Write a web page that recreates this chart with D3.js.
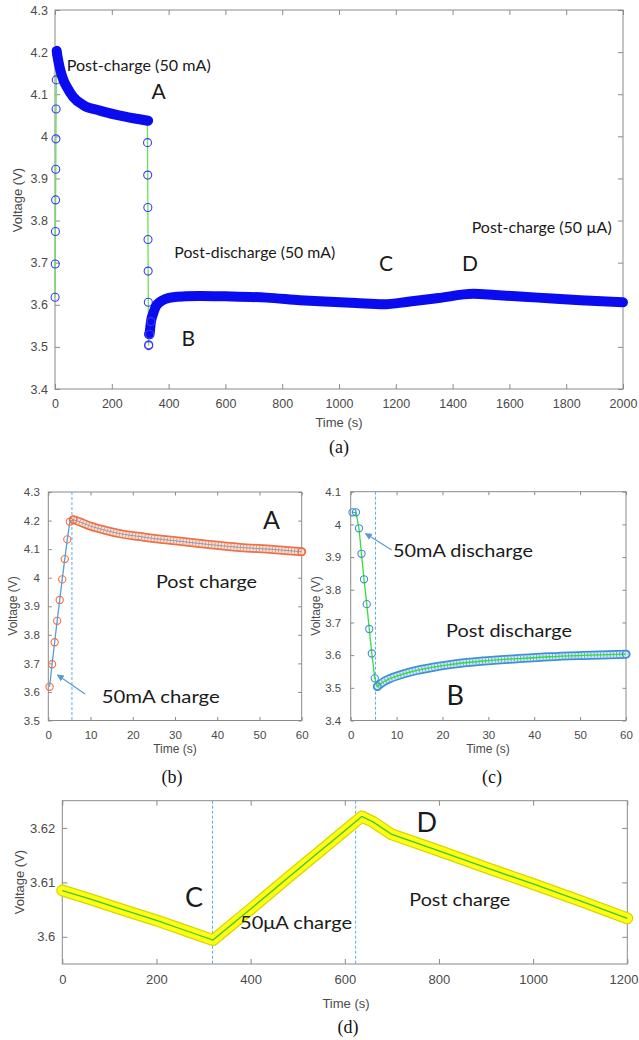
<!DOCTYPE html>
<html><head><meta charset="utf-8">
<script src="https://cdn.jsdelivr.net/npm/d3@7"></script>
<style>body{margin:0;background:#fff}svg{display:block}</style>
</head><body>
<svg id="chart" width="639" height="1040"></svg>
<script>
// ---------------- DATA ----------------
// Panel (a): full record 0-2000 s
const aXTicks = [0,200,400,600,800,1000,1200,1400,1600,1800,2000];
const aYTicks = [3.4,3.5,3.6,3.7,3.8,3.9,4.0,4.1,4.2,4.3];
const aChargeT = [0.3,0.9,1.5,2.1,2.7,3.3,3.9,4.5,5.1];
const aChargeV = [3.618,3.697,3.774,3.849,3.922,3.994,4.065,4.134,4.197];
const aPostChargeT = [5.9,10,17.6,30,41,64.5,100,158,217,276,328];
const aPostChargeV = [4.203,4.185,4.160,4.133,4.118,4.093,4.074,4.061,4.051,4.043,4.037];
const aDischargeT = [324.4,325.2,325.8,326.4,326.9,327.5,328.0,328.6,329.3,329.8];
const aDischargeV = [4.037,4.037,3.985,3.908,3.831,3.755,3.680,3.606,3.530,3.503];
const aPostDisT = [330,333,338,346,356,370,390,416,460,511,600,745,863,968,1060,1156,1250,1350,1473,1550,1700,1850,2000];
const aPostDisV = [3.505,3.530,3.560,3.580,3.597,3.607,3.614,3.618,3.620,3.621,3.620,3.617,3.611,3.607,3.604,3.601,3.608,3.616,3.626,3.623,3.617,3.611,3.606];

// Panel (b): 50 mA charge + post charge (0-60 s)
const bXTicks = [0,10,20,30,40,50,60];
const bYTicks = [3.5,3.6,3.7,3.8,3.9,4.0,4.1,4.2,4.3];
const bChargeT = [0.3,0.9,1.5,2.1,2.7,3.3,3.9,4.5,5.1];
const bChargeV = [3.618,3.697,3.774,3.849,3.922,3.994,4.065,4.134,4.196];
const bPostT = [5.9,7,8,9.9,13.8,17,21.7,25,29.6,37.5,45.4,53.2,60];
const bPostV = [4.203,4.198,4.192,4.181,4.165,4.154,4.144,4.137,4.130,4.117,4.106,4.099,4.091];
const bSwitchT = 5.6;

// Panel (c): 50 mA discharge + post discharge (0-60 s)
const cXTicks = [0,10,20,30,40,50,60];
const cYTicks = [3.4,3.5,3.6,3.7,3.8,3.9,4.0,4.1];
const cDisT = [0.4,1.15,1.8,2.35,2.9,3.5,4.05,4.6,5.25,5.8];
const cDisV = [4.037,4.037,3.988,3.910,3.832,3.756,3.680,3.605,3.529,3.504];
const cPostT = [5.8,6.3,7.1,8.5,10.7,14.4,18,21.6,28.9,36.2,43.4,50.7,60];
const cPostV = [3.504,3.510,3.518,3.528,3.539,3.553,3.563,3.571,3.582,3.589,3.595,3.599,3.603];
const cSwitchT = 5.4;

// Panel (d): 50 uA charge (0-1200 s)
const dXTicks = [0,200,400,600,800,1000,1200];
const dYTicks = [3.6,3.61,3.62];
const dT = [0,60,120,200,260,320,400,480,547,600,636,660,700,800,900,1000,1100,1200];
const dV = [3.6085,3.6069,3.6052,3.6030,3.6012,3.5994,3.6051,3.6109,3.6157,3.6195,3.6221,3.6211,3.6188,3.6158,3.6127,3.6097,3.6066,3.6034];
const dSwitchT = [319,623];

// ---------------- DRAWING ----------------
const svg = d3.select('#chart');
const zip = (t, v) => t.map((d, i) => [d, v[i]]);
const TICKFONT = "'Liberation Sans', Arial, sans-serif";
const ANNFONT = "Lato, 'Open Sans', sans-serif";
const PAGE_W = 639;

svg.append('defs').append('marker')
  .attr('id','arrow').attr('viewBox','0 0 10 10').attr('refX',9).attr('refY',5)
  .attr('markerWidth',7).attr('markerHeight',7).attr('orient','auto-start-reverse')
  .attr('markerUnits','userSpaceOnUse')
  .append('path').attr('d','M0,0 L10,5 L0,10 z').attr('fill','#5b9bd5');

function panel(cfg) {
  const x = d3.scaleLinear().domain(cfg.xDomain).range([cfg.left, cfg.right]);
  const y = d3.scaleLinear().domain(cfg.yDomain).range([cfg.bottom, cfg.top]);
  const g = svg.append('g');
  const fmt = d => String(+d.toFixed(3));
  const style = (sel) => {
    sel.select('.domain').remove();
    sel.selectAll('.tick line').attr('stroke', '#8a8a8a');
    sel.selectAll('.tick text').attr('fill', '#4a4a4a')
      .style('font-family', TICKFONT).style('font-size', cfg.font + 'px');
  };
  const bottomAxis = g.append('g').attr('transform', `translate(0,${cfg.bottom})`)
    .call(d3.axisBottom(x).tickValues(cfg.xTicks).tickSizeInner(-cfg.tick).tickSizeOuter(0).tickPadding(cfg.xPad).tickFormat(fmt))
    .call(style);
  // keep an x label that would run past the page edge inside the page
  bottomAxis.selectAll('.tick').each(function (d) {
    const txt = d3.select(this).select('text');
    const w = txt.node().getComputedTextLength();
    const tx = x(d);
    if (tx + w / 2 > PAGE_W - 1) txt.attr('text-anchor', 'end').attr('x', PAGE_W - 1 - tx);
  });
  g.append('g').attr('transform', `translate(0,${cfg.top})`)
    .call(d3.axisTop(x).tickValues(cfg.xTicks).tickSizeInner(-cfg.tick).tickSizeOuter(0).tickFormat(''))
    .call(style);
  g.append('g').attr('transform', `translate(${cfg.left},0)`)
    .call(d3.axisLeft(y).tickValues(cfg.yTicks).tickSizeInner(-cfg.tick).tickSizeOuter(0).tickPadding(cfg.yPad).tickFormat(fmt))
    .call(style);
  g.append('g').attr('transform', `translate(${cfg.right},0)`)
    .call(d3.axisRight(y).tickValues(cfg.yTicks).tickSizeInner(-cfg.tick).tickSizeOuter(0).tickFormat(''))
    .call(style);
  g.append('rect').attr('x', cfg.left).attr('y', cfg.top)
    .attr('width', cfg.right - cfg.left).attr('height', cfg.bottom - cfg.top)
    .attr('fill', 'none').attr('stroke', '#8a8a8a').attr('stroke-width', 1);
  g.append('text').attr('transform', `translate(${cfg.yl[0]},${cfg.yl[1]}) rotate(-90)`)
    .attr('text-anchor', 'middle').attr('dominant-baseline', 'central')
    .style('font-family', TICKFONT).style('font-size', cfg.lfont + 'px').attr('fill', '#4a4a4a')
    .text('Voltage (V)');
  g.append('text').attr('x', cfg.xl[0]).attr('y', cfg.xl[1])
    .attr('text-anchor', 'middle').attr('dominant-baseline', 'central')
    .style('font-family', TICKFONT).style('font-size', cfg.lfont + 'px').attr('fill', '#4a4a4a')
    .text('Time (s)');
  svg.append('text').attr('x', cfg.cap[0]).attr('y', cfg.cap[1])
    .attr('text-anchor', 'middle').attr('dominant-baseline', 'central')
    .style('font-family', "'Liberation Serif', 'Times New Roman', serif").style('font-size', '18px').attr('fill', '#111')
    .text(cfg.caption);
  return { x, y, g };
}

function ann(txt, x, yb, size, width) {
  const t = svg.append('text').attr('x', x).attr('y', yb)
    .style('font-family', ANNFONT).style('font-size', size + 'px').attr('fill', '#1a1a1a').text(txt);
  if (width) t.attr('textLength', width).attr('lengthAdjust', 'spacingAndGlyphs');
  return t;
}

// ---- Panel (a)
{
  const { x, y, g } = panel({ left: 55, right: 623, top: 10, bottom: 389, xDomain: [0, 2000], yDomain: [3.4, 4.3],
    xTicks: aXTicks, yTicks: aYTicks, tick: 5, xPad: 10, yPad: 7, font: 12.5, lfont: 13,
    yl: [17, 200], xl: [339, 422], cap: [339, 447], caption: '(a)' });
  const lin = d3.line().x(d => x(d[0])).y(d => y(d[1]));
  const smooth = d3.line().x(d => x(d[0])).y(d => y(d[1])).curve(d3.curveMonotoneX);
  const charge = zip(aChargeT, aChargeV), dis = zip(aDischargeT, aDischargeV);
  g.append('path').attr('d', lin(charge.concat([[aPostChargeT[0], aPostChargeV[0]]]))).attr('fill', 'none').attr('stroke', '#6be05a').attr('stroke-width', 1.3);
  g.append('path').attr('d', lin(dis)).attr('fill', 'none').attr('stroke', '#6be05a').attr('stroke-width', 1.3);
  g.selectAll('.ca').data(charge.concat(dis)).join('circle')
    .attr('cx', d => x(d[0])).attr('cy', d => y(d[1])).attr('r', 4)
    .attr('fill', 'none').attr('stroke', '#3a3aff').attr('stroke-width', 1.1);
  const band = (pts) => g.append('path').attr('d', smooth(pts)).attr('fill', 'none')
    .attr('stroke', '#0b0bef').attr('stroke-width', 10).attr('stroke-linecap', 'round').attr('stroke-linejoin', 'round');
  band(zip(aPostChargeT, aPostChargeV));
  band(zip(aPostDisT, aPostDisV).slice(1));
  g.selectAll('.pd').data(zip(aPostDisT, aPostDisV).slice(0, 3)).join('circle')
    .attr('cx', d => x(d[0])).attr('cy', d => y(d[1])).attr('r', 4)
    .attr('fill', 'none').attr('stroke', '#3a3aff').attr('stroke-width', 1.1);
  ann('Post-charge (50 mA)', 66.7, 70.7, 16, 144);
  ann('A', 151.5, 98.7, 21);
  ann('Post-discharge (50 mA)', 174.3, 258.3, 16, 161);
  ann('B', 181.5, 345.7, 21);
  ann('C', 379, 270.7, 21);
  ann('D', 462, 270.7, 21);
  ann('Post-charge (50 \u00B5A)', 471.7, 232.7, 16, 140);
}

function bandDraw(g, line, pts, outer, inner, center, centerW) {
  g.append('path').attr('d', line(pts)).attr('fill', 'none').attr('stroke', outer).attr('stroke-width', 9).attr('stroke-linecap', 'round');
  g.append('path').attr('d', line(pts)).attr('fill', 'none').attr('stroke', inner).attr('stroke-width', 5.5).attr('stroke-linecap', 'round');
  g.append('path').attr('d', line(pts)).attr('fill', 'none').attr('stroke', outer).attr('stroke-width', 5).attr('stroke-dasharray', '1 2.2').attr('opacity', 0.7);
  g.append('path').attr('d', line(pts)).attr('fill', 'none').attr('stroke', center).attr('stroke-width', centerW);
}

// ---- Panel (b)
{
  const { x, y, g } = panel({ left: 48.3, right: 301.7, top: 492, bottom: 720.5, xDomain: [0, 60], yDomain: [3.5, 4.3],
    xTicks: bXTicks, yTicks: bYTicks, tick: 3.5, xPad: 10, yPad: 8.5, font: 11.5, lfont: 12,
    yl: [13, 606], xl: [175, 749], cap: [172, 777], caption: '(b)' });
  const lin = d3.line().x(d => x(d[0])).y(d => y(d[1]));
  const smooth = d3.line().x(d => x(d[0])).y(d => y(d[1])).curve(d3.curveMonotoneX);
  g.append('line').attr('x1', x(bSwitchT)).attr('x2', x(bSwitchT)).attr('y1', y(4.3)).attr('y2', y(3.5))
    .attr('stroke', '#5aaeea').attr('stroke-width', 1).attr('stroke-dasharray', '3 2');
  const post = zip(bPostT, bPostV);
  bandDraw(g, smooth, post, '#ec7148', '#fbe3d8', '#7f9fc0', 1);
  const charge = zip(bChargeT, bChargeV);
  g.append('path').attr('d', lin(charge.concat([post[0]]))).attr('fill', 'none').attr('stroke', '#4f9fe0').attr('stroke-width', 1.3);
  g.selectAll('.cb').data(charge.concat([post[0], post[post.length - 1]])).join('circle')
    .attr('cx', d => x(d[0])).attr('cy', d => y(d[1])).attr('r', 3.6)
    .attr('fill', 'none').attr('stroke', '#ec7148').attr('stroke-width', 1.1);
  ann('A', 263, 529.3, 25);
  ann('Post charge', 156, 588.3, 18, 101);
  ann('50mA charge', 101.7, 702.7, 18, 118);
  svg.append('line').attr('x1', 85).attr('y1', 694).attr('x2', 57.5).attr('y2', 675)
    .attr('stroke', '#5b9bd5').attr('stroke-width', 1.2).attr('marker-end', 'url(#arrow)');
}

// ---- Panel (c)
{
  const { x, y, g } = panel({ left: 350.7, right: 626, top: 491.7, bottom: 720.5, xDomain: [0, 60], yDomain: [3.4, 4.1],
    xTicks: cXTicks, yTicks: cYTicks, tick: 3.5, xPad: 10, yPad: 9.5, font: 11.5, lfont: 12,
    yl: [316, 606], xl: [488, 749], cap: [492, 777], caption: '(c)' });
  const lin = d3.line().x(d => x(d[0])).y(d => y(d[1]));
  const smooth = d3.line().x(d => x(d[0])).y(d => y(d[1])).curve(d3.curveMonotoneX);
  g.append('line').attr('x1', x(cSwitchT)).attr('x2', x(cSwitchT)).attr('y1', y(4.1)).attr('y2', y(3.4))
    .attr('stroke', '#5aaeea').attr('stroke-width', 1).attr('stroke-dasharray', '3 2');
  const post = zip(cPostT, cPostV);
  bandDraw(g, smooth, post, '#3f8fd5', '#d3e7f6', '#2fe02f', 1.3);
  const dis = zip(cDisT, cDisV);
  g.append('path').attr('d', lin(dis.concat([post[1]]))).attr('fill', 'none').attr('stroke', '#36dd36').attr('stroke-width', 1.3);
  g.selectAll('.cc').data(dis.concat([post[post.length - 1]])).join('circle')
    .attr('cx', d => x(d[0])).attr('cy', d => y(d[1])).attr('r', 3.6)
    .attr('fill', 'none').attr('stroke', '#3f8fd5').attr('stroke-width', 1.1);
  ann('50mA discharge', 393, 557.3, 18, 140);
  ann('Post discharge', 446, 636.7, 18, 126);
  ann('B', 446.5, 705, 27);
  svg.append('line').attr('x1', 391.7).attr('y1', 550).attr('x2', 365.5).attr('y2', 533.5)
    .attr('stroke', '#5b9bd5').attr('stroke-width', 1.2).attr('marker-end', 'url(#arrow)');
}

// ---- Panel (d)
{
  const { x, y, g } = panel({ left: 62.3, right: 627.3, top: 800.7, bottom: 964, xDomain: [0, 1200], yDomain: [3.595, 3.625],
    xTicks: dXTicks, yTicks: dYTicks, tick: 5, xPad: 11, yPad: 7, font: 13, lfont: 13,
    yl: [19, 882], xl: [346, 1003], cap: [348, 1027], caption: '(d)' });
  const lin = d3.line().x(d => x(d[0])).y(d => y(d[1]));
  dSwitchT.forEach(t => g.append('line').attr('x1', x(t)).attr('x2', x(t)).attr('y1', y(3.625)).attr('y2', y(3.595))
    .attr('stroke', '#5aaeea').attr('stroke-width', 1).attr('stroke-dasharray', '3 2'));
  const pts = zip(dT, dV);
  g.append('path').attr('d', lin(pts)).attr('fill', 'none').attr('stroke', '#d6d600').attr('stroke-width', 12).attr('stroke-linecap', 'round').attr('stroke-linejoin', 'round');
  g.append('path').attr('d', lin(pts)).attr('fill', 'none').attr('stroke', '#ffff14').attr('stroke-width', 9.5).attr('stroke-linecap', 'round').attr('stroke-linejoin', 'round');
  g.append('path').attr('d', lin(pts)).attr('fill', 'none').attr('stroke', '#3cc43c').attr('stroke-width', 1.3);
  ann('C', 185, 907.3, 27);
  ann('50\u03BCA charge', 240, 929, 18, 112);
  ann('D', 416.5, 831.7, 27);
  ann('Post charge', 409.3, 906, 18, 101);
}
</script>
</body></html>
